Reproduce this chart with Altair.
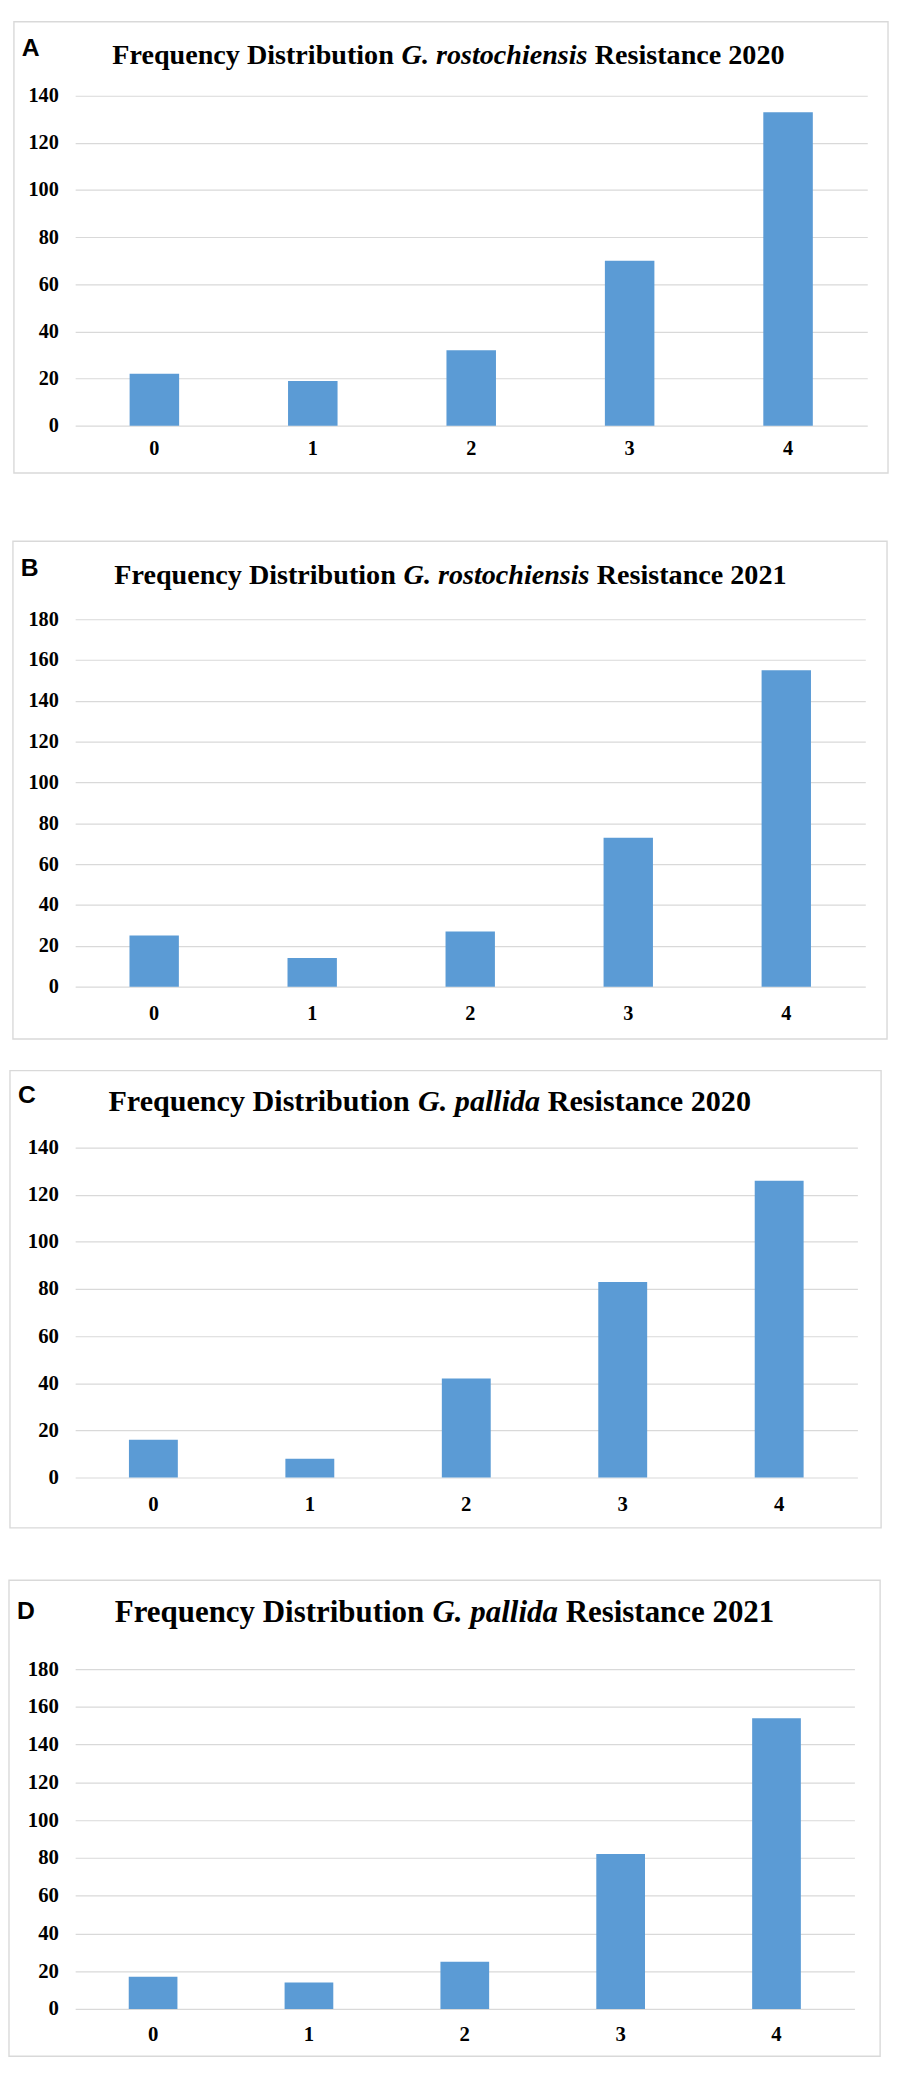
import altair as alt
import pandas as pd

# ---------------- data ----------------
categories = ["0", "1", "2", "3", "4"]
values_a = [22, 19, 32, 70, 133]
values_b = [25, 14, 27, 73, 155]
values_c = [16, 8, 42, 83, 126]
values_d = [17, 14, 25, 82, 154]
ticks_140 = [0, 20, 40, 60, 80, 100, 120, 140]
ticks_180 = [0, 20, 40, 60, 80, 100, 120, 140, 160, 180]
letters = ["A", "B", "C", "D"]
title_lead = "Frequency Distribution"
title_species = ["G. rostochiensis", "G. rostochiensis", "G. pallida", "G. pallida"]
title_tail = ["Resistance 2020", "Resistance 2021", "Resistance 2020", "Resistance 2021"]

# ---------------- style ----------------
BAR = "#5b9bd5"
GRID = "#d9d9d9"
SERIF = "Liberation Serif"
SANS = "Liberation Sans"

# Times New Roman metrics (per 1000 em) for the title pieces
BOLD_W = {"F": 611, "r": 444, "e": 444, "q": 556, "u": 556, "n": 556, "c": 444,
          "y": 500, " ": 250, "D": 722, "i": 278, "s": 389, "t": 333, "b": 556,
          "o": 500, "R": 722, "a": 500, "0": 500, "1": 500, "2": 500}
BOLDIT_W = {"G": 722, ".": 250, " ": 250, "r": 389, "o": 500, "s": 389, "t": 278,
            "c": 444, "h": 556, "i": 278, "e": 444, "n": 556, "p": 500, "a": 500,
            "l": 278, "d": 500}


def text_w(s, table, size):
    return sum(table.get(ch, 500) for ch in s) / 1000.0 * size


# layout per panel: plot width/height, box margins (left, right, top, bottom),
# gap below the box, title centre (x from plot left, y from plot top),
# title font size, letter offset from box top, x-label padding, axis label size
layouts = [
    dict(W=802, H=334, L=62, R=21, T=75, B=48, gap=68, tcx=378, ty=-41, F=28.5, ly=27, xpad=13, lf=20.5),
    dict(W=800, H=372, L=63, R=22, T=79, B=53, gap=31, tcx=380, ty=-45, F=28.5, ly=27, xpad=17, lf=20.5),
    dict(W=792, H=334, L=66, R=24, T=78, B=51, gap=52, tcx=359, ty=-46, F=30.5, ly=25, xpad=16, lf=21),
    dict(W=789, H=344, L=67, R=26, T=90, B=48, gap=0, tcx=374, ty=-57, F=31.3, ly=31, xpad=15, lf=21),
]


def panel(i, values, ticks):
    lay = layouts[i]
    W, H, L, R, T, B = lay["W"], lay["H"], lay["L"], lay["R"], lay["T"], lay["B"]
    df = pd.DataFrame({"score": categories, "count": values})
    one = pd.DataFrame({"k": [0]})

    bars = alt.Chart(df).mark_bar(color=BAR).encode(
        x=alt.X("score:N", sort=categories,
                scale=alt.Scale(paddingInner=0.6875, paddingOuter=0.34375),
                axis=alt.Axis(title=None, labelAngle=0, ticks=False, domain=False, grid=False,
                              labelFont=SERIF, labelFontSize=lay["lf"], labelFontWeight="bold",
                              labelColor="#000000", labelPadding=lay["xpad"])),
        y=alt.Y("count:Q", scale=alt.Scale(domain=[ticks[0], ticks[-1]], nice=False),
                axis=alt.Axis(title=None, values=ticks, ticks=False, domain=False, grid=True,
                              gridColor=GRID, gridWidth=1.2, labelFont=SERIF,
                              labelFontSize=lay["lf"], labelFontWeight="bold",
                              labelColor="#000000", labelPadding=17)),
    )

    box = alt.Chart(one).mark_rect(fillOpacity=0, stroke=GRID, strokeWidth=1.4).encode(
        x=alt.value(-L), x2=alt.value(W + R), y=alt.value(-T), y2=alt.value(H + B)
    )

    layers = [box]
    if lay["gap"] > 0:
        spacer = alt.Chart(one).mark_rect(opacity=0).encode(
            x=alt.value(0), x2=alt.value(10), y=alt.value(H + B),
            y2=alt.value(H + B + lay["gap"])
        )
        layers.append(spacer)

    letter = alt.Chart(one).mark_text(
        text=letters[i], font=SANS, fontWeight="bold", fontSize=25, align="left",
        baseline="middle", color="#000000"
    ).encode(x=alt.value(-L + 8), y=alt.value(-T + lay["ly"]))

    F = lay["F"]
    sp = 0.25 * F
    w1 = text_w(title_lead, BOLD_W, F)
    w2 = text_w(title_species[i], BOLDIT_W, F)
    w3 = text_w(title_tail[i], BOLD_W, F)
    total = w1 + sp + w2 + sp + w3
    x0 = lay["tcx"] - total / 2.0
    pieces = [
        (title_lead, "normal", x0),
        (title_species[i], "italic", x0 + w1 + sp),
        (title_tail[i], "normal", x0 + w1 + sp + w2 + sp),
    ]
    segs = []
    for txt, style, xp in pieces:
        segs.append(
            alt.Chart(one).mark_text(
                text=txt, font=SERIF, fontWeight="bold", fontStyle=style, fontSize=F,
                align="left", baseline="middle", color="#000000"
            ).encode(x=alt.value(xp), y=alt.value(lay["ty"]))
        )

    return alt.layer(*layers, bars, letter, *segs).properties(width=W, height=H)


pa = panel(0, values_a, ticks_140)
pb = panel(1, values_b, ticks_180)
pc = panel(2, values_c, ticks_140)
pd_ = panel(3, values_d, ticks_180)

chart = alt.vconcat(pa, pb, pc, pd_, spacing=0).properties(
    padding=0, background="white"
).configure_view(stroke=None)

chart.save("out.html", embed_options={"renderer": "svg", "actions": False})
